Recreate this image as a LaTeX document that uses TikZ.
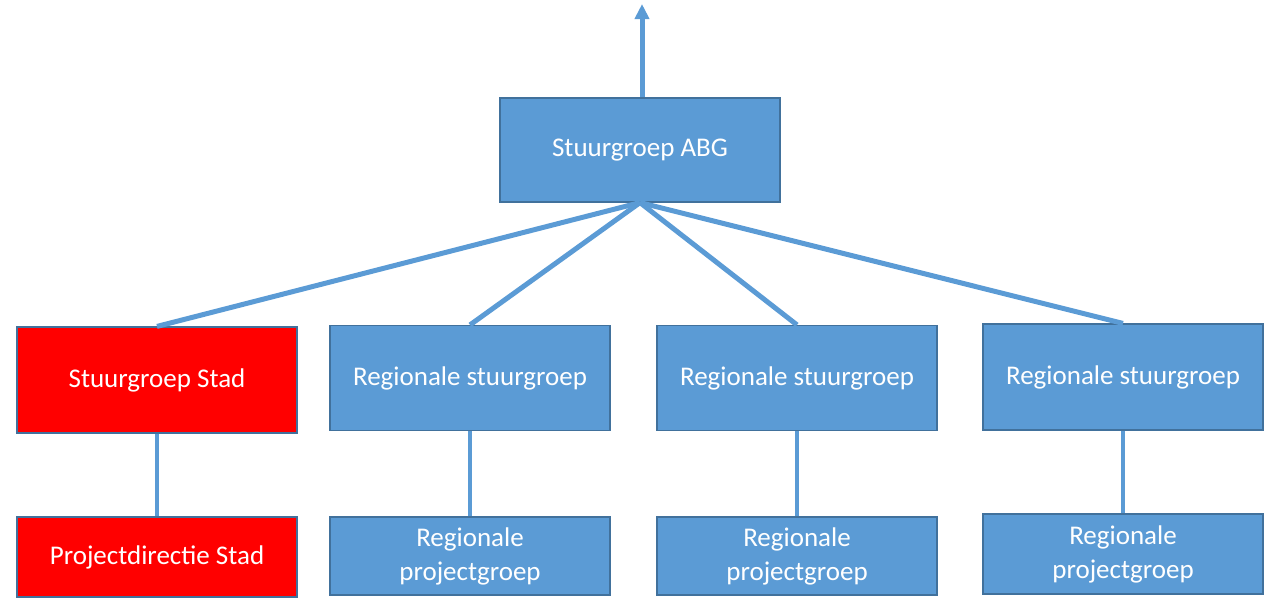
\documentclass[tikz,border=0pt]{standalone}
\usepackage{fontspec}
\setmainfont{Carlito}
\usetikzlibrary{arrows.meta}
\definecolor{boxblue}{HTML}{5B9BD5}
\definecolor{edgeblue}{HTML}{41719C}
\definecolor{boxred}{HTML}{FF0000}
\begin{document}
\begin{tikzpicture}[x=1pt,y=-1pt,
  box/.style={draw=edgeblue,line width=1.2pt,fill=boxblue,text=white,minimum width=280pt,align=center,font=\fontsize{27}{34}\selectfont,inner sep=0pt},
  redbox/.style={box,fill=boxred},
  link/.style={draw=boxblue,line width=5pt}]
\useasboundingbox (0,0) rectangle (1273,598);
\node[box,minimum height=104pt] (top) at (640,150) {Stuurgroep ABG};
\coordinate (up) at (642,4);
\node[redbox,minimum height=106pt] (s1) at (157,380) {Stuurgroep Stad};
\node[box,minimum height=105pt] (s2) at (470,378) {Regionale stuurgroep};
\node[box,minimum height=105pt] (s3) at (797,378) {Regionale stuurgroep};
\node[box,minimum height=106pt] (s4) at (1123,377) {Regionale stuurgroep};
\node[redbox,minimum height=80pt] (p1) at (157,557) {Projectdirectie Stad};
\node[box,minimum height=78pt] (p2) at (470,556) {Regionale\\projectgroep};
\node[box,minimum height=78pt] (p3) at (797,556) {Regionale\\projectgroep};
\node[box,minimum height=80pt] (p4) at (1123,554) {Regionale\\projectgroep};
\draw[link,-{Triangle[length=15pt,width=14pt]}] ([xshift=2pt]top.north) -- (up);
\foreach \n in {s1,s2,s3,s4} \draw[link] (top.south) -- (\n.north);
\foreach \a/\b in {s1/p1,s2/p2,s3/p3,s4/p4} \draw[link,line width=4pt] (\a.south) -- (\b.north);
\end{tikzpicture}
\end{document}
